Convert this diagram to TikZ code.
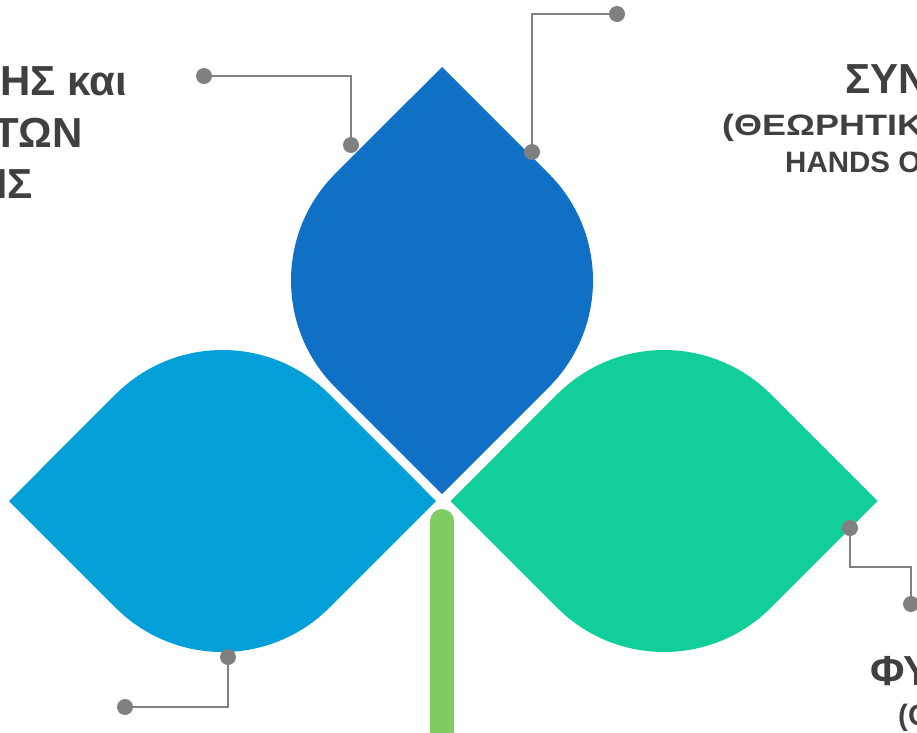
\documentclass[tikz,border=0pt]{standalone}
\usepackage{fontspec}
\setmainfont{Liberation Sans}
\usepackage{xcolor}
\usepackage{tikz}
\usetikzlibrary{positioning}

\definecolor{leafTop}{RGB}{16,112,198}
\definecolor{leafLeft}{RGB}{3,159,216}
\definecolor{leafRight}{RGB}{18,207,154}
\definecolor{stemGreen}{RGB}{127,204,98}
\definecolor{lineGray}{RGB}{128,128,128}
\definecolor{textGray}{RGB}{64,64,64}

\begin{document}
\begin{tikzpicture}[
  x=1pt, y=-1pt,
  dot/.style={circle, fill=lineGray, inner sep=0pt, minimum size=16pt},
  link/.style={draw=lineGray, line width=2.5pt},
  big/.style={font=\fontsize{42}{50}\selectfont\bfseries, text=textGray, inner sep=0pt},
  small/.style={font=\fontsize{29.5}{36}\selectfont\bfseries, text=textGray, inner sep=0pt}
]

\useasboundingbox (0,0) rectangle (917,732);
\clip (0,0) rectangle (917,732);

% Leaves
\begin{scope}[shift={(442,280.5)}, rotate=90]
  \fill[leafTop] (-213.5,0) -- (225:151) arc[start angle=225, end angle=315, radius=151] -- (213.5,0) -- (45:151) arc[start angle=45, end angle=135, radius=151] -- cycle;
\end{scope}
\begin{scope}[shift={(222.5,501)}]
  \fill[leafLeft] (-213.5,0) -- (225:151) arc[start angle=225, end angle=315, radius=151] -- (213.5,0) -- (45:151) arc[start angle=45, end angle=135, radius=151] -- cycle;
\end{scope}
\begin{scope}[shift={(664,501)}]
  \fill[leafRight] (-213.5,0) -- (225:151) arc[start angle=225, end angle=315, radius=151] -- (213.5,0) -- (45:151) arc[start angle=45, end angle=135, radius=151] -- cycle;
\end{scope}

% Stem
\fill[stemGreen] (430,740) -- (430,521) arc[start angle=180, end angle=360, radius=12] -- (454,740) -- cycle;

% Connectors
\node[dot] (topL) at (351,145) {};
\node[dot] (topLend) at (204,76) {};
\draw[link] (topLend) -| (topL);

\node[dot] (topR) at (532,152) {};
\node[dot] (topRend) at (617,14) {};
\draw[link] (topRend) -| (topR);

\node[dot] (right) at (850,528) {};
\node[dot] (rightend) at (911,604) {};
\coordinate (rightk) at (880,567);
\draw[link] (right) |- (rightk) -| (rightend);

\node[dot] (left) at (228,657) {};
\node[dot] (leftend) at (125,707) {};
\draw[link] (left) |- (leftend);

% Labels
\node[big, anchor=base east] (lblA1) at (127,95) {ΗΣ και};
\node[big, anchor=base east] (lblA2) at (83,147) {ΤΩΝ};
\node[big, anchor=base east] (lblA3) at (33,198) {ΗΣ};

\node[big, anchor=base west] (lblB1) at (845,93) {ΣΥΝ};
\node[small, anchor=base west] (lblB2) at (722,135) {\addfontfeature{FakeStretch=1.22}(ΘΕΩΡΗΤΙΚΟ};
\node[small, anchor=base west] (lblB3) at (785,172) {HANDS O};

\node[big, anchor=base west] (lblC1) at (870,685) {ΦΥ};
\node[small, anchor=base west] (lblC2) at (898,725) {(Ο};

\end{tikzpicture}
\end{document}
